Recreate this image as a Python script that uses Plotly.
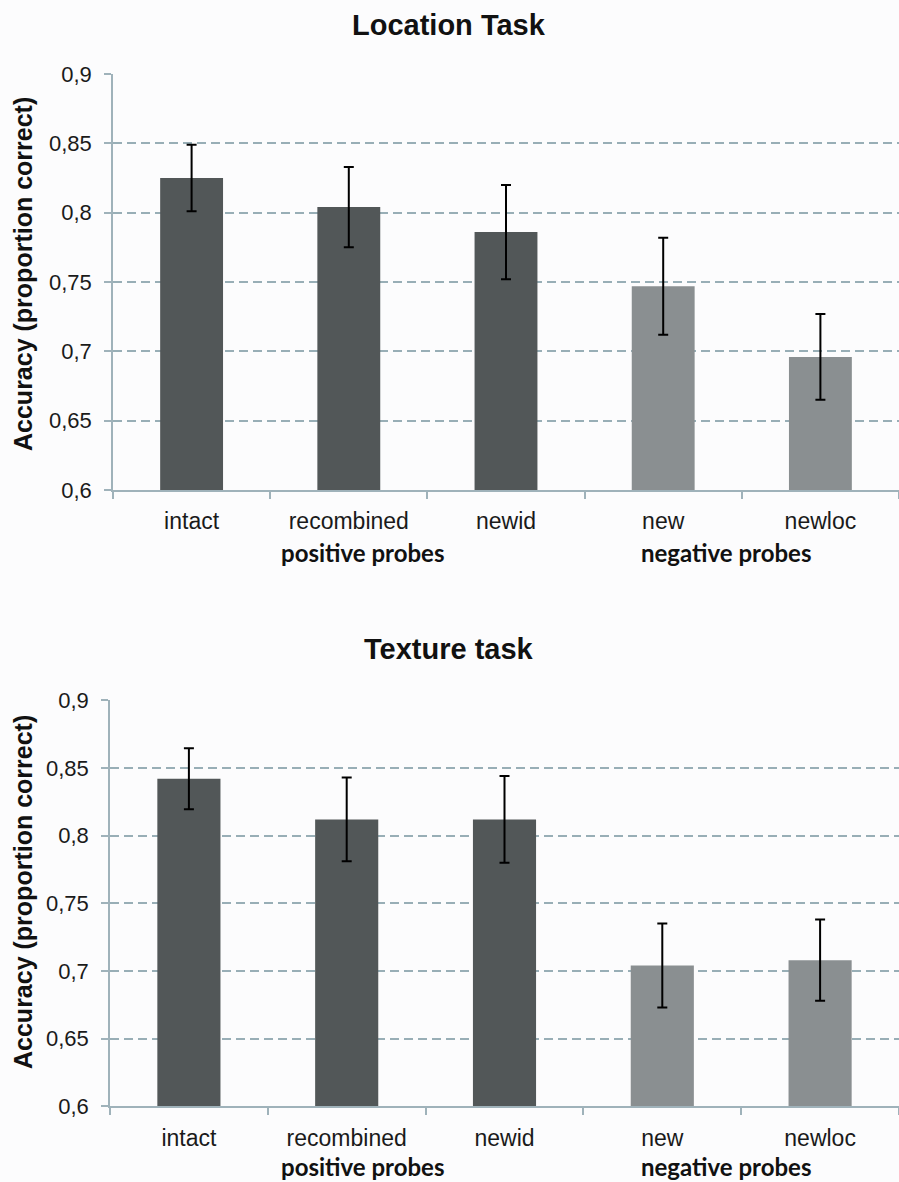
import plotly.graph_objects as go

categories = ["intact", "recombined", "newid", "new", "newloc"]
loc_means = [0.825, 0.804, 0.786, 0.747, 0.696]
loc_err = [0.024, 0.029, 0.034, 0.035, 0.031]
tex_means = [0.842, 0.812, 0.812, 0.704, 0.708]
tex_err = [0.0225, 0.031, 0.032, 0.031, 0.030]
group_labels = ["positive probes", "negative probes"]
titles = ["Location Task", "Texture task"]
y_title = "Accuracy (proportion correct)"
tick_vals = [0.6, 0.65, 0.7, 0.75, 0.8, 0.85, 0.9]
tick_text = ["0,6", "0,65", "0,7", "0,75", "0,8", "0,85", "0,9"]

DARK = "#525758"
LIGHT = "#8a8f91"
bar_colors = [DARK, DARK, DARK, LIGHT, LIGHT]
GRID = "#98aeb6"
AXIS = "#9fb2ba"
W, H = 899, 1182

fig = go.Figure()
for i, (means, errs) in enumerate([(loc_means, loc_err), (tex_means, tex_err)]):
    sfx = "" if i == 0 else "2"
    fig.add_trace(go.Bar(
        x=categories, y=means, width=0.4,
        marker=dict(color=bar_colors, line=dict(width=0)),
        error_y=dict(type="data", array=errs, color="black", thickness=2, width=5),
        xaxis="x" + sfx, yaxis="y" + sfx, showlegend=False,
    ))

xcommon = dict(type="category", showline=True, linecolor=AXIS, linewidth=1.5,
               ticks="outside", tickson="boundaries", ticklen=7, tickcolor=AXIS,
               tickwidth=1.5, showgrid=False, ticklabelstandoff=10, automargin=False,
               tickfont=dict(family="Liberation Sans, Arial", size=23, color="#1a1a1a"))
ycommon = dict(range=[0.6, 0.9], tickvals=tick_vals, ticktext=tick_text,
               showline=True, linecolor=AXIS, linewidth=1.5, ticks="outside",
               ticklen=7, tickcolor=AXIS, tickwidth=1.5, showgrid=True,
               gridcolor=GRID, gridwidth=2, griddash="9px,5px", zeroline=False,
               ticklabelstandoff=8, automargin=False,
               tickfont=dict(family="Liberation Sans, Arial", size=22, color="#1a1a1a"))

fig.update_layout(
    width=W, height=H, margin=dict(l=0, r=0, t=0, b=0, autoexpand=False),
    paper_bgcolor="#fcfcfd", plot_bgcolor="#fcfcfd",
    bargap=0.6,
    xaxis=dict(domain=[113 / W, 1.0], anchor="y", **xcommon),
    yaxis=dict(domain=[1 - 490 / H, 1 - 74 / H], anchor="x", **ycommon),
    xaxis2=dict(domain=[110 / W, 1.0], anchor="y2", **xcommon),
    yaxis2=dict(domain=[1 - 1106.3 / H, 1 - 700.3 / H], anchor="x2", **ycommon),
)

title_y = [25, 649]
group_y = [553, 1166]
ytitle_y = [274, 892]
group_x = [362, 726]
for k in range(2):
    fig.add_annotation(text="<b>%s</b>" % titles[k], x=449 / W, y=1 - title_y[k] / H,
                       xref="paper", yref="paper", showarrow=False,
                       xanchor="center", yanchor="middle",
                       font=dict(family="Liberation Sans, Arial", size=29, color="#111"))
    fig.add_annotation(text="<b>%s</b>" % y_title, x=23 / W, y=1 - ytitle_y[k] / H,
                       xref="paper", yref="paper", showarrow=False, textangle=-90,
                       xanchor="center", yanchor="middle",
                       font=dict(family="Liberation Sans, Arial", size=25, color="#111"))
    for g in range(2):
        fig.add_annotation(text="<b>%s</b>" % group_labels[g], x=group_x[g] / W,
                           y=1 - group_y[k] / H, xref="paper", yref="paper",
                           showarrow=False, xanchor="center", yanchor="middle",
                           font=dict(family="Lato, Carlito, sans-serif", size=24, color="#111"))

fig.write_html("out.html", config=dict(displayModeBar=False),
               post_script="document.body.style.margin='0';document.body.style.overflow='hidden';")
